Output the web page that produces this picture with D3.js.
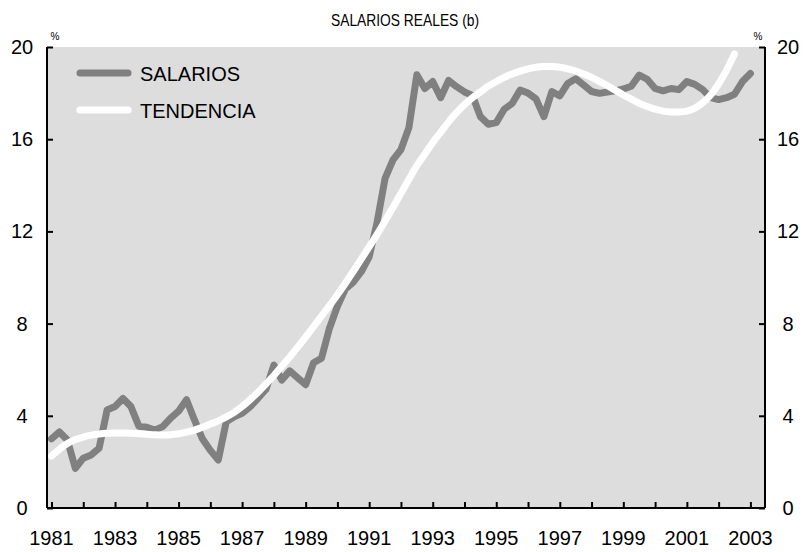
<!DOCTYPE html>
<html lang="es">
<head>
<meta charset="UTF-8">
<title>Salarios reales</title>
<script src="https://d3js.org/d3.v7.min.js"></script>
<style>
  body { margin: 0; background: #fff; }
  svg { display: block; font-family: Arial, "Liberation Sans", sans-serif; }
</style>
</head>
<body>
<svg id="chart" width="810" height="552"></svg>
<script>
// quarterly series, first point 1981 Q1
const startYear = 1981;
const salarios = [
  3.0, 3.3, 2.95, 1.72,
  2.16, 2.3, 2.6, 4.25,
  4.4, 4.75, 4.4, 3.55,
  3.5, 3.38, 3.53, 3.9,
  4.2, 4.7, 3.82, 3.0,
  2.5, 2.08, 3.74, 3.96,
  4.11, 4.39, 4.76, 5.15,
  6.2, 5.55, 5.95, 5.65,
  5.35, 6.3, 6.5, 7.8,
  8.75, 9.5, 9.8, 10.25,
  10.9, 12.4, 14.3, 15.1,
  15.55, 16.5, 18.8, 18.2,
  18.5, 17.8, 18.55, 18.28,
  18.05, 17.9, 16.98, 16.65,
  16.72, 17.3, 17.55, 18.13,
  18.0, 17.75, 16.98, 18.07,
  17.88, 18.42, 18.62, 18.35,
  18.07, 17.99, 18.05, 18.1,
  18.18, 18.3, 18.78, 18.6,
  18.2, 18.1, 18.2, 18.15,
  18.5, 18.38, 18.15, 17.8,
  17.72, 17.8, 17.95, 18.5,
  18.85
];
const tendencia = [
  2.25, 2.55, 2.8, 2.97,
  3.08, 3.16, 3.21, 3.24,
  3.25, 3.25, 3.24, 3.22,
  3.2, 3.18, 3.17, 3.18,
  3.22, 3.29, 3.38, 3.5,
  3.64, 3.78, 3.95, 4.15,
  4.4, 4.7, 5.02, 5.38,
  5.75, 6.15, 6.55, 6.98,
  7.42, 7.87, 8.33, 8.78,
  9.25, 9.75, 10.27, 10.8,
  11.33, 11.87, 12.45, 13.05,
  13.65, 14.25, 14.85, 15.35,
  15.85, 16.3, 16.75, 17.15,
  17.5, 17.8, 18.05, 18.3,
  18.5, 18.68, 18.83, 18.95,
  19.05, 19.12, 19.15, 19.15,
  19.12, 19.05, 18.96, 18.83,
  18.68, 18.5, 18.32, 18.12,
  17.92, 17.74, 17.56, 17.42,
  17.3, 17.22, 17.18, 17.18,
  17.22, 17.35, 17.58, 17.92,
  18.4, 19.0, 19.7
];
const yearTicks = d3.range(1981, 2004);
const yearLabels = d3.range(1981, 2004, 2);
const yTicks = [0, 4, 8, 12, 16, 20];
const seriesNames = ["SALARIOS", "TENDENCIA"];
const seriesColors = ["#808080", "#ffffff"];

const svg = d3.select("#chart");
const plotLeft = 47, plotRight = 765, plotTop = 47, plotBottom = 508;

const x = d3.scaleLinear().domain([1981, 2003]).range([51.5, 750.4]);
const y = d3.scaleLinear().domain([0, 20]).range([plotBottom, plotTop]);

// plot background
svg.append("rect")
  .attr("x", plotLeft).attr("y", plotTop)
  .attr("width", plotRight - plotLeft).attr("height", plotBottom - plotTop)
  .attr("fill", "#dddddd");

const qt = i => startYear + i / 4;
const lineGen = d3.line().x(d => x(d.t)).y(d => y(d.v));

svg.append("path")
  .datum(salarios.map((v, i) => ({ t: qt(i), v })))
  .attr("fill", "none")
  .attr("stroke", seriesColors[0])
  .attr("stroke-width", 7)
  .attr("stroke-linejoin", "round")
  .attr("stroke-linecap", "round")
  .attr("d", lineGen);

svg.append("path")
  .datum(tendencia.map((v, i) => ({ t: qt(i), v })))
  .attr("fill", "none")
  .attr("stroke", seriesColors[1])
  .attr("stroke-width", 7)
  .attr("stroke-linecap", "round")
  .attr("d", lineGen.curve(d3.curveCatmullRom));

// axes
const axisColor = "#000";
const xAxis = svg.append("g").attr("transform", `translate(0,${plotBottom})`)
  .call(d3.axisTop(x).tickValues(yearTicks).tickSize(6).tickFormat(""));
const yLeft = svg.append("g").attr("transform", `translate(${plotLeft},0)`)
  .call(d3.axisRight(y).tickValues(yTicks).tickSize(6).tickFormat(""));
const yRight = svg.append("g").attr("transform", `translate(${plotRight},0)`)
  .call(d3.axisLeft(y).tickValues(yTicks).tickSize(6).tickFormat(""));
[xAxis, yLeft, yRight].forEach(g => {
  g.select(".domain").attr("stroke", axisColor).attr("stroke-width", 2)
    .attr("d", g === xAxis ? `M${plotLeft},0H${plotRight}` : `M0,${plotTop}V${plotBottom}`);
  g.selectAll(".tick line").attr("stroke", axisColor).attr("stroke-width", 2);
});

// tick labels
svg.selectAll(".xlab").data(yearLabels).enter().append("text")
  .attr("x", d => x(d)).attr("y", 545)
  .attr("text-anchor", "middle").attr("font-size", 20)
  .text(d => d);
svg.selectAll(".ylabL").data(yTicks).enter().append("text")
  .attr("x", 22).attr("y", d => y(d) + 7)
  .attr("text-anchor", "middle").attr("font-size", 20)
  .text(d => d);
svg.selectAll(".ylabR").data(yTicks).enter().append("text")
  .attr("x", 788).attr("y", d => y(d) + 7)
  .attr("text-anchor", "middle").attr("font-size", 20)
  .text(d => d);

// percent marks
svg.append("text").attr("x", 55).attr("y", 40).attr("font-size", 10)
  .attr("text-anchor", "middle").text("%");
svg.append("text").attr("x", 758).attr("y", 40).attr("font-size", 10)
  .attr("text-anchor", "middle").text("%");

// title (narrow, as in the source)
svg.append("text").attr("x", 405).attr("y", 26)
  .attr("text-anchor", "middle").attr("font-size", 17)
  .attr("textLength", 148).attr("lengthAdjust", "spacingAndGlyphs")
  .text("SALARIOS REALES (b)");

// legend
const legend = svg.append("g");
seriesNames.forEach((name, i) => {
  const ly = 73 + i * 37;
  legend.append("line")
    .attr("x1", 80).attr("x2", 128).attr("y1", ly).attr("y2", ly)
    .attr("stroke", seriesColors[i]).attr("stroke-width", 7)
    .attr("stroke-linecap", "round");
  legend.append("text")
    .attr("x", 140).attr("y", ly + 8)
    .attr("font-size", 20)
    .text(name);
});
</script>
</body>
</html>
